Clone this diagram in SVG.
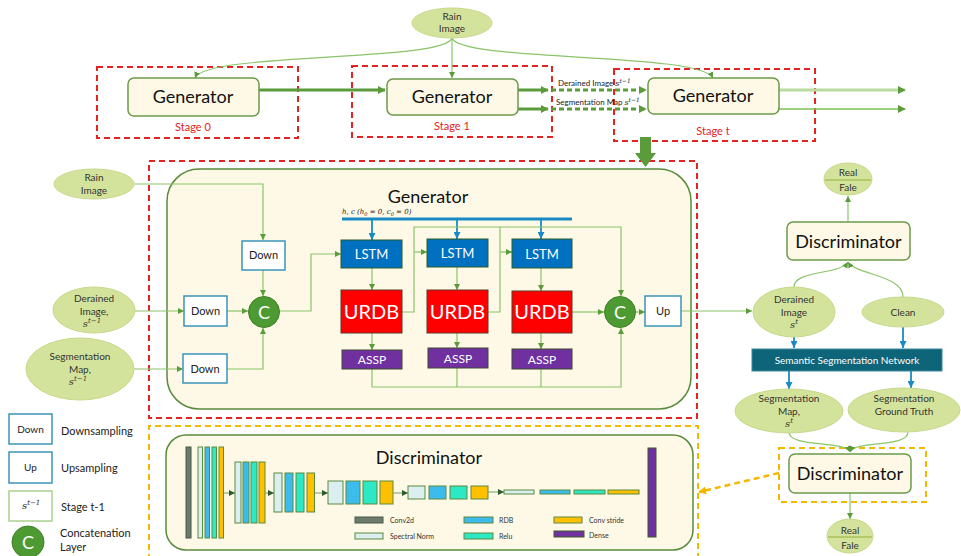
<svg xmlns="http://www.w3.org/2000/svg" width="961" height="556" viewBox="0 0 961 556">
<defs>
<style>
text{font-family:Lato,"Open Sans","Liberation Sans",sans-serif;fill:#222}
.ell{fill:#d4e39c;stroke:#c6d98a;stroke-width:1}
.et{font-size:10px;fill:#333;text-anchor:middle}
.math{font-family:"DejaVu Serif","Liberation Serif",serif;font-style:italic}
.gen{fill:#fdf9e6;stroke:#6a9a4a;stroke-width:1.5}
.gt{font-size:18px;text-anchor:middle;fill:#111}
.red{fill:none;stroke:#e52222;stroke-width:2;stroke-dasharray:6,4}
.yel{fill:none;stroke:#f5b800;stroke-width:2;stroke-dasharray:6,4}
.stage{font-size:11px;fill:#e52222;text-anchor:middle}
.ln{fill:none;stroke:#8cc46a;stroke-width:1.2}
.thick{fill:none;stroke:#5b9b3b;stroke-width:3}
.blue{fill:none;stroke:#1a8ac4;stroke-width:1.8}
.box{fill:#fff;stroke:#3a94b8;stroke-width:1.5}
.bt{font-size:11px;text-anchor:middle;fill:#222}
.circ{fill:#4e9a32;stroke:#3f7f28;stroke-width:1}
.ct{font-size:18px;fill:#fff;text-anchor:middle}
.lstm{fill:#0070c0;stroke:#2d5a2a;stroke-width:1}
.urdb{fill:#ff0000;stroke:#5a3a2a;stroke-width:1}
.assp{fill:#7030a0;stroke:#3a4a2a;stroke-width:1}
.wt{fill:#fff;text-anchor:middle}
.sn{fill:#dbeef0;stroke:#5a8a3c;stroke-width:1}
.rdb{fill:#3bbcec;stroke:#5a8a3c;stroke-width:1}
.relu{fill:#2de8c4;stroke:#5a8a3c;stroke-width:1}
.cs{fill:#ffc000;stroke:#5a8a3c;stroke-width:1}
.dense{fill:#7030a0;stroke:#3a5a2a;stroke-width:1}
.c2d{fill:#6f7a6f;stroke:#4a5a4a;stroke-width:1}
.lg{font-size:7px;fill:#333}
.leg{font-size:11px;fill:#222}
</style>
<marker id="ag" viewBox="0 0 10 10" refX="10" refY="5" markerWidth="6" markerHeight="6" markerUnits="userSpaceOnUse" orient="auto"><path d="M0,0L10,5L0,10z" fill="#5b9b3b"/></marker>
<marker id="agt" viewBox="0 0 10 10" refX="9" refY="5" markerWidth="8" markerHeight="8" markerUnits="userSpaceOnUse" orient="auto"><path d="M0,0L10,5L0,10z" fill="#5b9b3b"/></marker>
<marker id="ab" viewBox="0 0 10 10" refX="10" refY="5" markerWidth="7" markerHeight="7" markerUnits="userSpaceOnUse" orient="auto"><path d="M0,0L10,5L0,10z" fill="#1a8ac4"/></marker>
<marker id="ay" viewBox="0 0 10 10" refX="9" refY="5" markerWidth="8" markerHeight="8" markerUnits="userSpaceOnUse" orient="auto"><path d="M0,0L10,5L0,10z" fill="#f5b800"/></marker>
<marker id="adk" viewBox="0 0 10 10" refX="10" refY="5" markerWidth="6" markerHeight="6" markerUnits="userSpaceOnUse" orient="auto"><path d="M0,0L10,5L0,10z" fill="#2d5a2a"/></marker>
</defs>
<rect width="961" height="556" fill="#fff"/>

<!-- dashed frames -->
<g id="frames">
<rect class="red" x="97" y="67" width="201" height="71"/>
<rect class="red" x="352" y="66" width="200" height="71"/>
<rect class="red" x="614" y="69" width="201" height="72"/>
<rect class="red" x="149" y="161" width="548" height="257"/>
<path class="yel" d="M149,560 V426 H698 V560"/>
<rect class="yel" x="779" y="448" width="147" height="54"/>
</g>

<!-- generator container (drawn under its connectors) -->
<g id="generator"><rect x="167" y="169" width="524" height="240" rx="32" fill="#fdf9e6" stroke="#5a8a3c" stroke-width="1.5"/><text class="gt" x="428" y="203">Generator</text>
<text x="342" y="214" style="font-size:7px" class="math">h, c (h<tspan dy="1.5" style="font-size:5px">0</tspan><tspan dy="-1.5"> = 0, c</tspan><tspan dy="1.5" style="font-size:5px">0</tspan><tspan dy="-1.5"> = 0)</tspan></text></g>

<g id="connectors">
<!-- top -->
<path class="ln" d="M452,38 C445,62 205,52 195,78" marker-end="url(#ag)"/>
<path class="ln" d="M452,38 V78" marker-end="url(#ag)"/>
<path class="ln" d="M452,38 C460,62 700,52 713,78" marker-end="url(#ag)"/>
<path class="thick" d="M259,90 H385" marker-end="url(#agt)"/>
<path class="thick" d="M518,90 H548" marker-end="url(#agt)"/>
<path class="thick" d="M518,109 H548" marker-end="url(#agt)"/>
<path class="thick" d="M551,90 H646" stroke-dasharray="5,3" marker-end="url(#agt)"/>
<path class="thick" d="M551,109 H646" stroke-dasharray="5,3" marker-end="url(#agt)"/>
<path d="M779,90 H905" fill="none" stroke="#b9dba0" stroke-width="3" marker-end="url(#agt)"/>
<path d="M779,109 H905" fill="none" stroke="#7fbf5a" stroke-width="1.3" marker-end="url(#agt)"/>
<polygon points="640,137 651,137 651,153 656,153 645.5,167 635,153 640,153" fill="#5b9b3b"/>
<!-- generator inputs -->
<path class="ln" d="M134,184 H263 V240" marker-end="url(#ag)"/>
<path class="ln" d="M135,311 H184" marker-end="url(#ag)"/>
<path class="ln" d="M134,369 H183" marker-end="url(#ag)"/>
<path class="ln" d="M227,311 H248" marker-end="url(#ag)"/>
<path class="ln" d="M263,270 V296" marker-end="url(#ag)"/>
<path class="ln" d="M227,369 H263 V328" marker-end="url(#ag)"/>
<path class="ln" d="M279,311 H311 V254 H341" marker-end="url(#ag)"/>
<!-- h,c bar -->
<path d="M342,219 H572" stroke="#1a8ac4" stroke-width="3" fill="none"/>
<path class="blue" d="M372,219 V240" marker-end="url(#ab)"/>
<path class="blue" d="M457,219 V239" marker-end="url(#ab)"/>
<path class="blue" d="M541,219 V239" marker-end="url(#ab)"/>
<!-- internal -->
<path class="ln" d="M372,268 V290" marker-end="url(#ag)"/>
<path class="ln" d="M457,267 V290" marker-end="url(#ag)"/>
<path class="ln" d="M541,268 V291" marker-end="url(#ag)"/>
<path class="ln" d="M372,333 V350" marker-end="url(#ag)"/>
<path class="ln" d="M457,333 V348" marker-end="url(#ag)"/>
<path class="ln" d="M541,333 V349" marker-end="url(#ag)"/>
<path class="ln" d="M402,312 H414 V227 H621 V296" marker-end="url(#ag)"/>
<path class="ln" d="M414,252 H427" marker-end="url(#ag)"/>
<path class="ln" d="M488,312 H500 V227"/>
<path class="ln" d="M500,252 H512" marker-end="url(#ag)"/>
<path class="ln" d="M572,312 H604" marker-end="url(#ag)"/>
<path class="ln" d="M372,369 V387 H621 V328" marker-end="url(#ag)"/>
<path class="ln" d="M457,368 V387"/>
<path class="ln" d="M541,369 V387"/>
<path class="ln" d="M636,312 H645" marker-end="url(#ag)"/>
<path class="ln" d="M681,311 H752" marker-end="url(#ag)"/>
<!-- right side -->
<path class="ln" d="M848,221 V196" marker-end="url(#ag)"/>
<path class="ln" d="M794,287 C794,270 840,275 848,262" marker-end="url(#ag)"/>
<path class="ln" d="M903,297 C903,275 856,275 848,262" marker-end="url(#ag)"/>
<path class="blue" d="M794,337 V348" marker-end="url(#ab)"/>
<path class="blue" d="M903,327 V348" marker-end="url(#ab)"/>
<path class="blue" d="M789,371 V389" marker-end="url(#ab)"/>
<path class="blue" d="M911,371 V388" marker-end="url(#ab)"/>
<path class="ln" d="M789,432 C789,448 845,440 850,452" marker-end="url(#ag)"/>
<path class="ln" d="M908,432 C908,448 855,440 850,452" marker-end="url(#ag)"/>
<path class="ln" d="M850,493 V519" marker-end="url(#ag)"/>
<path d="M779,473 L699,492" fill="none" stroke="#f5b800" stroke-width="2.5" stroke-dasharray="6,4" marker-end="url(#ay)"/>
</g>

<!-- top nodes -->
<g id="rain-top"><ellipse class="ell" cx="452" cy="23" rx="40" ry="15"/><text class="et" x="452" y="20">Rain</text><text class="et" x="452" y="32">Image</text></g>
<g id="gen0"><rect class="gen" x="128" y="78" width="131" height="38" rx="6"/><text class="gt" x="193" y="103">Generator</text><text class="stage" x="193" y="131">Stage 0</text></g>
<g id="gen1"><rect class="gen" x="387" y="79" width="131" height="36" rx="6"/><text class="gt" x="452" y="103">Generator</text><text class="stage" x="452" y="130">Stage 1</text></g>
<g id="gent"><rect class="gen" x="648" y="78" width="131" height="36" rx="6"/><text class="gt" x="713" y="102">Generator</text><text class="stage" x="713" y="135">Stage t</text></g>
<g id="top-labels">
<text x="558" y="86" style="font-size:8px">Derained Image <tspan class="math">s</tspan><tspan class="math" dy="-3" style="font-size:6px">t−1</tspan></text>
<text x="556" y="105" style="font-size:8px">Segmentation Map <tspan class="math">s</tspan><tspan class="math" dy="-3" style="font-size:6px">t−1</tspan></text>
</g>

<g id="rain-left"><ellipse class="ell" cx="94" cy="184" rx="40" ry="15"/><text class="et" x="94" y="181">Rain</text><text class="et" x="94" y="194">Image</text></g>
<g id="derained-left"><ellipse class="ell" cx="94" cy="310" rx="41" ry="23"/><text class="et" x="94" y="302">Derained</text><text class="et" x="94" y="315">Image,</text><text class="et math" x="92" y="327">s<tspan dy="-4" style="font-size:7px">t−1</tspan></text></g>
<g id="segmap-left"><ellipse class="ell" cx="80" cy="369" rx="54" ry="31"/><text class="et" x="80" y="360">Segmentation</text><text class="et" x="80" y="373">Map,</text><text class="et math" x="78" y="385">s<tspan dy="-4" style="font-size:7px">t−1</tspan></text></g>
<g id="down1"><rect class="box" x="242" y="241" width="43" height="29"/><text class="bt" x="263.5" y="259">Down</text></g>
<g id="down2"><rect class="box" x="184" y="296" width="43" height="30"/><text class="bt" x="205.5" y="315">Down</text></g>
<g id="down3"><rect class="box" x="183" y="354" width="44" height="29"/><text class="bt" x="205" y="373">Down</text></g>
<g id="concat1"><circle class="circ" cx="264" cy="312" r="15.5"/><text class="ct" x="264" y="318.5">C</text></g>
<g id="lstm1"><rect class="lstm" x="341" y="240" width="61" height="28"/><text class="wt" x="371.5" y="259" style="font-size:13px">LSTM</text></g>
<g id="lstm2"><rect class="lstm" x="427" y="239" width="61" height="28"/><text class="wt" x="457.5" y="258" style="font-size:13px">LSTM</text></g>
<g id="lstm3"><rect class="lstm" x="512" y="239" width="60" height="29"/><text class="wt" x="542" y="258.5" style="font-size:13px">LSTM</text></g>
<g id="urdb1"><rect class="urdb" x="341" y="290" width="61" height="43"/><text class="wt" x="371.5" y="318.5" style="font-size:20px">URDB</text></g>
<g id="urdb2"><rect class="urdb" x="427" y="290" width="61" height="43"/><text class="wt" x="457.5" y="318.5" style="font-size:20px">URDB</text></g>
<g id="urdb3"><rect class="urdb" x="512" y="291" width="60" height="42"/><text class="wt" x="542" y="319" style="font-size:20px">URDB</text></g>
<g id="assp1"><rect class="assp" x="342" y="350" width="60" height="19"/><text class="wt" x="372" y="364" style="font-size:12px">ASSP</text></g>
<g id="assp2"><rect class="assp" x="428" y="348" width="60" height="20"/><text class="wt" x="458" y="362.5" style="font-size:12px">ASSP</text></g>
<g id="assp3"><rect class="assp" x="512" y="349" width="60" height="20"/><text class="wt" x="542" y="363.5" style="font-size:12px">ASSP</text></g>
<g id="concat2"><circle class="circ" cx="620" cy="312" r="15.5"/><text class="ct" x="620" y="318.5">C</text></g>
<g id="up"><rect class="box" x="645" y="296" width="36" height="30"/><text class="bt" x="663" y="315">Up</text></g>

<!-- right side -->
<g id="realfake1"><ellipse class="ell" cx="848" cy="179" rx="24" ry="16"/><path d="M825,180 H871" stroke="#a8c25a" stroke-width="1.5"/><text class="et" x="848" y="176">Real</text><text class="et" x="848" y="191">Fale</text></g>
<g id="disc1"><rect class="gen" x="787" y="222" width="123" height="38" rx="6"/><text class="gt" x="848.5" y="247.5">Discriminator</text></g>
<g id="derained-right"><ellipse class="ell" cx="794" cy="312" rx="41" ry="25"/><text class="et" x="794" y="303">Derained</text><text class="et" x="794" y="316">Image</text><text class="et math" x="794" y="328">s<tspan dy="-4" style="font-size:7px">t</tspan></text></g>
<g id="clean"><ellipse class="ell" cx="903" cy="312" rx="41" ry="15"/><text class="et" x="903" y="316">Clean</text></g>
<g id="ssn"><rect x="752" y="349" width="190" height="22" fill="#0e6478" stroke="#3a8a9a" stroke-width="1"/><text x="847" y="363.5" style="font-size:10px;fill:#fff;text-anchor:middle">Semantic Segmentation Network</text></g>
<g id="segmap-right"><ellipse class="ell" cx="789" cy="411" rx="54" ry="22"/><text class="et" x="789" y="402">Segmentation</text><text class="et" x="789" y="415">Map,</text><text class="et math" x="789" y="427">s<tspan dy="-4" style="font-size:7px">t</tspan></text></g>
<g id="seggt"><ellipse class="ell" cx="904" cy="410" rx="56" ry="22"/><text class="et" x="904" y="402">Segmentation</text><text class="et" x="904" y="415">Ground Truth</text></g>
<g id="disc2"><rect class="gen" x="789" y="454" width="122" height="39" rx="6"/><text class="gt" x="850" y="480">Discriminator</text></g>
<g id="realfake2"><ellipse class="ell" cx="850" cy="536" rx="23" ry="17"/><path d="M828,537 H872" stroke="#a8c25a" stroke-width="1.5"/><text class="et" x="850" y="534">Real</text><text class="et" x="850" y="549">Fale</text></g>

<!-- discriminator detail -->
<g id="discriminator-detail">
<rect x="166" y="435" width="527" height="115" rx="20" fill="#fdf9e6" stroke="#5a8a3c" stroke-width="1.5"/>
<text class="gt" x="429" y="464">Discriminator</text>
<rect class="c2d" x="186" y="447" width="5" height="91"/>
<rect class="sn" x="198" y="447" width="4.5" height="91"/>
<rect class="rdb" x="205" y="447" width="4.5" height="91"/>
<rect class="relu" x="212" y="447" width="4.5" height="91"/>
<rect class="cs" x="219" y="447" width="4.5" height="91"/>
<path d="M224,493 H235" stroke="#8aa878" stroke-width="1.2" marker-end="url(#adk)"/>
<rect class="sn" x="235" y="462" width="6" height="61"/>
<rect class="rdb" x="243" y="462" width="6" height="61"/>
<rect class="relu" x="251" y="462" width="6" height="61"/>
<rect class="cs" x="259" y="462" width="6" height="61"/>
<path d="M265,493 H274" stroke="#8aa878" stroke-width="1.2" marker-end="url(#adk)"/>
<rect class="sn" x="274" y="473" width="8" height="39"/>
<rect class="rdb" x="285" y="473" width="8" height="39"/>
<rect class="relu" x="296" y="473" width="8" height="39"/>
<rect class="cs" x="307" y="473" width="7.5" height="39"/>
<path d="M315,493 H328" stroke="#8aa878" stroke-width="1.2" marker-end="url(#adk)"/>
<rect class="sn" x="328" y="481" width="15" height="23"/>
<rect class="rdb" x="346" y="481" width="14" height="23"/>
<rect class="relu" x="363" y="481" width="14" height="23"/>
<rect class="cs" x="380" y="481" width="13" height="23"/>
<path d="M393,493 H408" stroke="#8aa878" stroke-width="1.2" marker-end="url(#adk)"/>
<rect class="sn" x="408" y="486" width="17" height="13"/>
<rect class="rdb" x="429" y="486" width="17" height="13"/>
<rect class="relu" x="450" y="486" width="17" height="13"/>
<rect class="cs" x="471" y="486" width="17" height="13"/>
<path d="M488,492 H504" stroke="#8aa878" stroke-width="1.2" marker-end="url(#adk)"/>
<rect class="sn" x="504" y="490" width="30" height="4"/>
<rect class="rdb" x="540" y="490" width="30" height="4"/>
<rect class="relu" x="574" y="490" width="31" height="4"/>
<rect class="cs" x="608" y="490" width="31" height="4"/>
<rect class="dense" x="648" y="448" width="8" height="89"/>
<rect class="c2d" x="355" y="517" width="28" height="6"/><text class="lg" x="390" y="523">Conv2d</text>
<rect class="sn" x="355" y="533" width="28" height="6"/><text class="lg" x="390" y="539">Spectral Norm</text>
<rect class="rdb" x="464" y="517" width="29" height="6"/><text class="lg" x="499" y="523">RDB</text>
<rect class="relu" x="464" y="533" width="29" height="6"/><text class="lg" x="499" y="539">Relu</text>
<rect class="cs" x="554" y="517" width="28" height="6"/><text class="lg" x="589" y="523">Conv stride</text>
<rect class="dense" x="554" y="531" width="30" height="6"/><text class="lg" x="589" y="538">Dense</text>
</g>

<!-- legend -->
<g id="legend">
<rect class="box" x="9" y="414" width="43" height="30"/><text class="bt" x="30.5" y="433" style="font-size:10px">Down</text><text class="leg" x="61" y="435">Downsampling</text>
<rect class="box" x="9" y="452" width="43" height="31"/><text class="bt" x="30.5" y="471" style="font-size:10px">Up</text><text class="leg" x="61" y="472">Upsampling</text>
<rect x="9" y="491" width="43" height="30" fill="#fff" stroke="#a9d18e" stroke-width="1.5"/><text class="math" x="22" y="509" style="font-size:10px">s<tspan dy="-4" style="font-size:7px">t−1</tspan></text><text class="leg" x="61" y="511">Stage t-1</text>
<circle class="circ" cx="28" cy="542" r="16"/><text class="ct" x="28" y="548.5">C</text><text class="leg" x="60" y="537">Concatenation</text><text class="leg" x="60" y="551">Layer</text>
</g>
</svg>
